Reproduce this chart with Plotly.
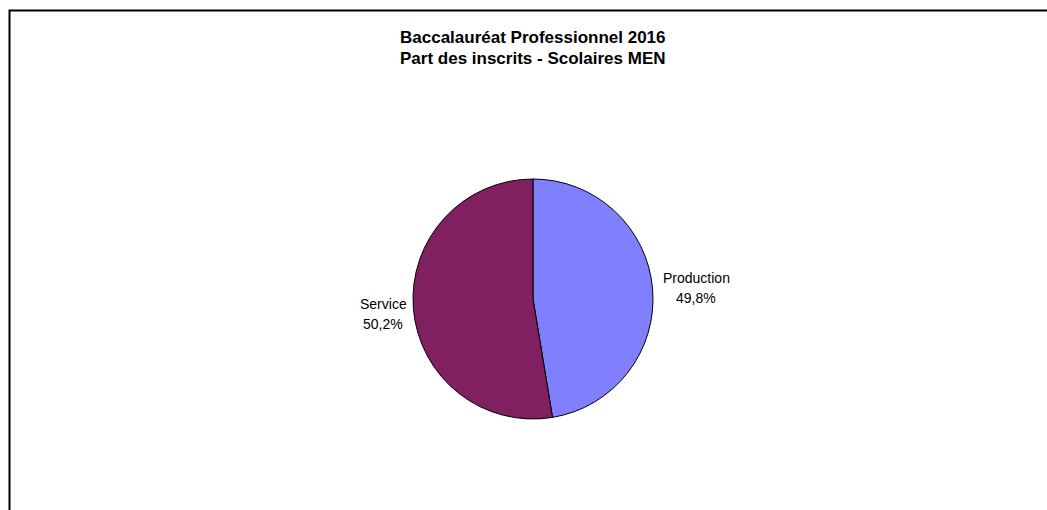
import plotly.graph_objects as go

# slice shares as drawn (angles) and the printed labels
categories = ["Production", "Service"]
shares = [47.4, 52.6]
pct_labels = ["49,8%", "50,2%"]
colors = ["#8080FF", "#802060"]
title_lines = ["Baccalauréat Professionnel 2016", "Part des inscrits - Scolaires MEN"]

W, H = 1047, 510
FONT = "Liberation Sans, Arial"

fig = go.Figure(go.Pie(
    labels=categories,
    values=shares,
    sort=False,
    direction="clockwise",
    rotation=0,
    textinfo="none",
    hoverinfo="label+percent",
    marker=dict(colors=colors, line=dict(color="black", width=1)),
    domain=dict(x=[(533 - 120) / W, (533 + 120) / W],
                y=[1 - (299 + 120) / H, 1 - (299 - 120) / H]),
    showlegend=False,
))

def add_text(txt, px, py, size, bold=False):
    fig.add_annotation(
        x=px / W, y=1 - py / H, xref="paper", yref="paper",
        text=f"<b>{txt}</b>" if bold else txt, showarrow=False,
        xanchor="center", yanchor="middle",
        font=dict(family=FONT, size=size, color="black"),
    )

# title, two lines
for line, py in zip(title_lines, [38, 58]):
    add_text(line, 533, py, 17, bold=True)

# outside labels placed like the original
label_pos = [(696, 278, 298), (383, 304, 324)]
for name, pct, (px, py1, py2) in zip(categories, pct_labels, label_pos):
    add_text(name, px, py1, 14)
    add_text(pct, px, py2, 14)

# chart frame (only top and left edges visible)
fig.add_shape(type="rect", xref="paper", yref="paper",
              x0=9.5 / W, x1=1.3, y0=-0.3, y1=1 - 10.5 / H,
              line=dict(color="black", width=2), layer="below")

fig.update_layout(
    width=W, height=H,
    margin=dict(l=0, r=0, t=0, b=0),
    paper_bgcolor="white",
    plot_bgcolor="white",
)

fig.write_html(
    "out.html",
    config={"displayModeBar": False},
    post_script="document.body.style.margin='0';document.body.style.overflow='hidden';",
)
